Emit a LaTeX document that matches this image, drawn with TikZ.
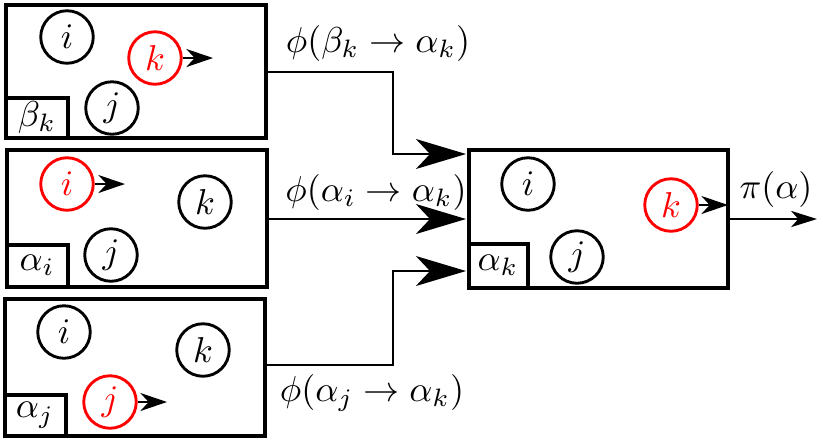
\documentclass[tikz,border=0pt]{standalone}
\usepackage{amsmath}
\usepackage{amssymb}
\usetikzlibrary{arrows.meta}

\begin{document}
\begin{tikzpicture}[x=0.278pt, y=-0.278pt,
		frame/.style={line width=0.9pt},
		ball/.style={circle, draw, line width=0.8pt, minimum size=14.6pt, inner sep=0pt},
		hot/.style={ball, red, text=red},
		wire/.style={line width=0.8pt, -{Stealth[length=13.9pt, width=8.3pt, inset=3.9pt]}},
		push/.style={line width=0.7pt, -{Stealth[length=7.4pt, width=5pt, inset=2.3pt]}},
		emit/.style={line width=0.45pt, -{Stealth[length=7.2pt, width=4.5pt, inset=2pt]}}]
		\useasboundingbox (0,0) rectangle (823,442);

		\coordinate (A1) at (6, 5);
		\coordinate (A2) at (266, 138);
		\coordinate (B1) at (7, 150);
		\coordinate (B2) at (267, 287);
		\coordinate (C1) at (5, 299);
		\coordinate (C2) at (265, 436);
		\coordinate (D1) at (469, 150);
		\coordinate (D2) at (728, 288);

		\draw[frame] (A1) rectangle (A2);
		\draw[frame] (B1) rectangle (B2);
		\draw[frame] (C1) rectangle (C2);
		\draw[frame] (D1) rectangle (D2);

		\draw[frame] (6, 98) rectangle (68, 138);
		\draw[frame] (7, 245) rectangle (68, 287);
		\draw[frame] (5, 395) rectangle (66, 436);
		\draw[frame] (469, 244) rectangle (528, 288);
		\node at (37, 117) {$\beta_k$};
		\node at (37, 265) {$\alpha_i$};
		\node at (35, 415) {$\alpha_j$};
		\node at (498, 265) {$\alpha_k$};

		\node[ball] (Ai) at (67, 37) {$i$};
		\node[hot] (Ak) at (155, 58) {$k$};
		\node[ball] (Aj) at (112, 108) {$j$};
		\node[hot] (Bi) at (67, 184) {$i$};
		\node[ball] (Bk) at (205, 202) {$k$};
		\node[ball] (Bj) at (111, 255) {$j$};
		\node[ball] (Ci) at (64, 332) {$i$};
		\node[ball] (Ck) at (203, 350) {$k$};
		\node[hot] (Cj) at (110, 402) {$j$};
		\node[ball] (Di) at (528, 184) {$i$};
		\node[ball] (Dj) at (577, 257) {$j$};
		\node[hot] (Dk) at (671, 205) {$k$};

		\coordinate (AT) at (213, 58);
		\coordinate (BT) at (125, 184);
		\coordinate (CT) at (167, 402);
		\coordinate (DT) at (728, 205);
		\draw[push] (Ak.east) -- (AT);
		\draw[push] (Bi.east) -- (BT);
		\draw[push] (Cj.east) -- (CT);
		\draw[push] (Dk.east) -- (DT);

		\coordinate (AO) at (266, 72);
		\coordinate (BO) at (267, 219);
		\coordinate (CO) at (265, 365);
		\coordinate (AI) at (466, 154);
		\coordinate (BI) at (466, 219);
		\coordinate (CI) at (466, 271);
		\coordinate (DO) at (728, 219);
		\coordinate (DE) at (817, 219);

		\draw[wire] (AO) -| (393, 154) -- (AI);
		\draw[wire] (BO) -- (BI);
		\draw[wire] (CO) -| (393, 271) -- (CI);
		\draw[emit] (DO) -- (DE);

		\node at (378, 43) {$\phi(\beta_k \to \alpha_k)$};
		\node at (376, 192) {$\phi(\alpha_i \to \alpha_k)$};
		\node at (372, 393) {$\phi(\alpha_j \to \alpha_k)$};
		\node at (776, 189) {$\pi(\alpha)$};
	\end{tikzpicture}
\end{document}
